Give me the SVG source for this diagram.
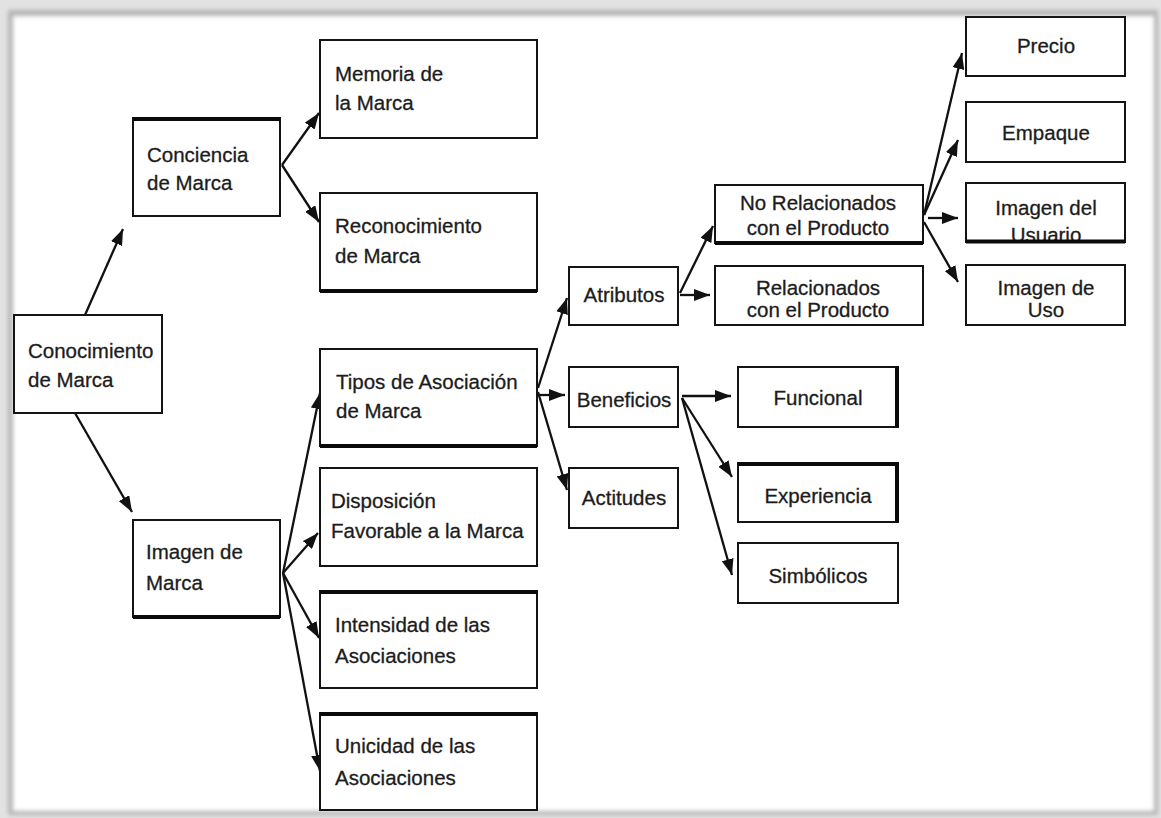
<svg xmlns="http://www.w3.org/2000/svg" width="1161" height="818" viewBox="0 0 1161 818">
  <style>
    .box { fill: #ffffff; stroke: #141414; stroke-width: 2; }
    .heavy { fill: none; stroke: #0a0a0a; stroke-width: 4; }
    .lbl { font-family: "Liberation Sans", Arial, sans-serif; font-size: 20.5px; fill: #1c1c1c; stroke: #1c1c1c; stroke-width: 0.3; }
    .mid { text-anchor: middle; }
    .link { fill: none; stroke: #111111; stroke-width: 2.3; marker-end: url(#head); }
  </style>
  <defs>
    <marker id="head" markerUnits="userSpaceOnUse" markerWidth="16" markerHeight="12" refX="16" refY="6" orient="auto">
      <path d="M0,0 L16,6 L0,12 z" fill="#111111"/>
    </marker>
    <filter id="soft" x="-5%" y="-5%" width="110%" height="110%">
      <feGaussianBlur stdDeviation="2"/>
    </filter>
  </defs>

  <!-- page frame -->
  <rect x="0" y="0" width="1161" height="818" fill="#e2e2e2"/>
  <rect x="8" y="10" width="1150" height="805" fill="#b5b5b5" filter="url(#soft)"/>
  <rect x="13" y="16" width="1141" height="795" fill="#ffffff" filter="url(#soft)"/>

  <!-- connectors -->
  <g id="connectors">
    <line class="link" x1="85" y1="315" x2="123" y2="229"/>
    <line class="link" x1="75" y1="413" x2="132" y2="512"/>
    <line class="link" x1="282" y1="165" x2="319" y2="113"/>
    <line class="link" x1="282" y1="165" x2="319" y2="222"/>
    <line class="link" x1="283" y1="573" x2="320" y2="393"/>
    <line class="link" x1="283" y1="573" x2="318" y2="533"/>
    <line class="link" x1="283" y1="573" x2="319" y2="638"/>
    <line class="link" x1="283" y1="573" x2="320" y2="771"/>
    <line class="link" x1="538" y1="388" x2="567" y2="298"/>
    <line class="link" x1="538" y1="395" x2="565" y2="395"/>
    <line class="link" x1="538" y1="392" x2="567" y2="490"/>
    <line class="link" x1="680" y1="293" x2="713" y2="226"/>
    <line class="link" x1="680" y1="295" x2="710" y2="295"/>
    <line class="link" x1="924" y1="215" x2="962" y2="53"/>
    <line class="link" x1="924" y1="215" x2="958" y2="140"/>
    <line class="link" x1="928" y1="218" x2="958" y2="218"/>
    <line class="link" x1="924" y1="222" x2="958" y2="282"/>
    <line class="link" x1="682" y1="396" x2="731" y2="396"/>
    <line class="link" x1="682" y1="398" x2="732" y2="477"/>
    <line class="link" x1="682" y1="398" x2="732" y2="575"/>
  </g>

  <g id="conocimiento">
    <rect class="box" x="14" y="315" width="148" height="98"/>
    <text class="lbl" x="28" y="358">Conocimiento</text>
    <text class="lbl" x="28" y="387">de Marca</text>
  </g>

  <g id="conciencia">
    <rect class="box" x="133" y="118" width="147" height="98"/>
    <path class="heavy" d="M133,119 H280"/>
    <text class="lbl" x="147" y="162">Conciencia</text>
    <text class="lbl" x="147" y="190">de Marca</text>
  </g>

  <g id="imagen-marca">
    <rect class="box" x="133" y="520" width="147" height="97"/>
    <path class="heavy" d="M133,617 H280"/>
    <text class="lbl" x="146" y="559">Imagen de</text>
    <text class="lbl" x="146" y="590">Marca</text>
  </g>

  <g id="memoria">
    <rect class="box" x="320" y="40" width="217" height="98"/>
    <text class="lbl" x="335" y="81">Memoria de</text>
    <text class="lbl" x="335" y="110">la Marca</text>
  </g>

  <g id="reconocimiento">
    <rect class="box" x="320" y="193" width="217" height="98"/>
    <path class="heavy" d="M320,291 H537"/>
    <text class="lbl" x="335" y="233">Reconocimiento</text>
    <text class="lbl" x="335" y="263">de Marca</text>
  </g>

  <g id="tipos">
    <rect class="box" x="320" y="349" width="217" height="97"/>
    <path class="heavy" d="M320,446 H537"/>
    <text class="lbl" x="336" y="389">Tipos de Asociación</text>
    <text class="lbl" x="336" y="418">de Marca</text>
  </g>

  <g id="disposicion">
    <rect class="box" x="320" y="468" width="217" height="98"/>
    <text class="lbl" x="331" y="508">Disposición</text>
    <text class="lbl" x="331" y="538">Favorable a la Marca</text>
  </g>

  <g id="intensidad">
    <rect class="box" x="320" y="591" width="217" height="97"/>
    <path class="heavy" d="M320,592 H537"/>
    <text class="lbl" x="335" y="632">Intensidad de las</text>
    <text class="lbl" x="335" y="663">Asociaciones</text>
  </g>

  <g id="unicidad">
    <rect class="box" x="320" y="713" width="217" height="97"/>
    <path class="heavy" d="M320,714 H537"/>
    <text class="lbl" x="335" y="753">Unicidad de las</text>
    <text class="lbl" x="335" y="785">Asociaciones</text>
  </g>

  <g id="atributos">
    <rect class="box" x="569" y="267" width="109" height="58"/>
    <text class="lbl mid" x="624" y="302">Atributos</text>
  </g>

  <g id="beneficios">
    <rect class="box" x="569" y="367" width="109" height="60"/>
    <text class="lbl mid" x="624" y="407">Beneficios</text>
  </g>

  <g id="actitudes">
    <rect class="box" x="569" y="468" width="109" height="60"/>
    <text class="lbl mid" x="624" y="505">Actitudes</text>
  </g>

  <g id="no-relacionados">
    <rect class="box" x="715" y="185" width="208" height="58"/>
    <path class="heavy" d="M715,243 H923"/>
    <text class="lbl mid" x="818" y="210">No Relacionados</text>
    <text class="lbl mid" x="818" y="235">con el Producto</text>
  </g>

  <g id="relacionados">
    <rect class="box" x="715" y="266" width="208" height="59"/>
    <text class="lbl mid" x="818" y="295">Relacionados</text>
    <text class="lbl mid" x="818" y="317">con el Producto</text>
  </g>

  <g id="funcional">
    <rect class="box" x="738" y="367" width="160" height="60"/>
    <path class="heavy" d="M897,367 V427"/>
    <text class="lbl mid" x="818" y="405">Funcional</text>
  </g>

  <g id="experiencia">
    <rect class="box" x="738" y="463" width="160" height="59"/>
    <path class="heavy" d="M738,464 H898 M897,463 V522"/>
    <text class="lbl mid" x="818" y="503">Experiencia</text>
  </g>

  <g id="simbolicos">
    <rect class="box" x="738" y="543" width="160" height="60"/>
    <text class="lbl mid" x="818" y="583">Simbólicos</text>
  </g>

  <g id="precio">
    <rect class="box" x="966" y="17" width="159" height="59"/>
    <text class="lbl mid" x="1046" y="53">Precio</text>
  </g>

  <g id="empaque">
    <rect class="box" x="966" y="102" width="159" height="60"/>
    <text class="lbl mid" x="1046" y="140">Empaque</text>
  </g>

  <g id="imagen-usuario">
    <rect class="box" x="966" y="183" width="159" height="59"/>
    <text class="lbl mid" x="1046" y="215">Imagen del</text>
    <text class="lbl mid" x="1046" y="242">Usuario</text>
    <path class="heavy" d="M966,241.5 H1125"/>
  </g>

  <g id="imagen-uso">
    <rect class="box" x="966" y="265" width="159" height="60"/>
    <text class="lbl mid" x="1046" y="295">Imagen de</text>
    <text class="lbl mid" x="1046" y="317">Uso</text>
  </g>
</svg>
